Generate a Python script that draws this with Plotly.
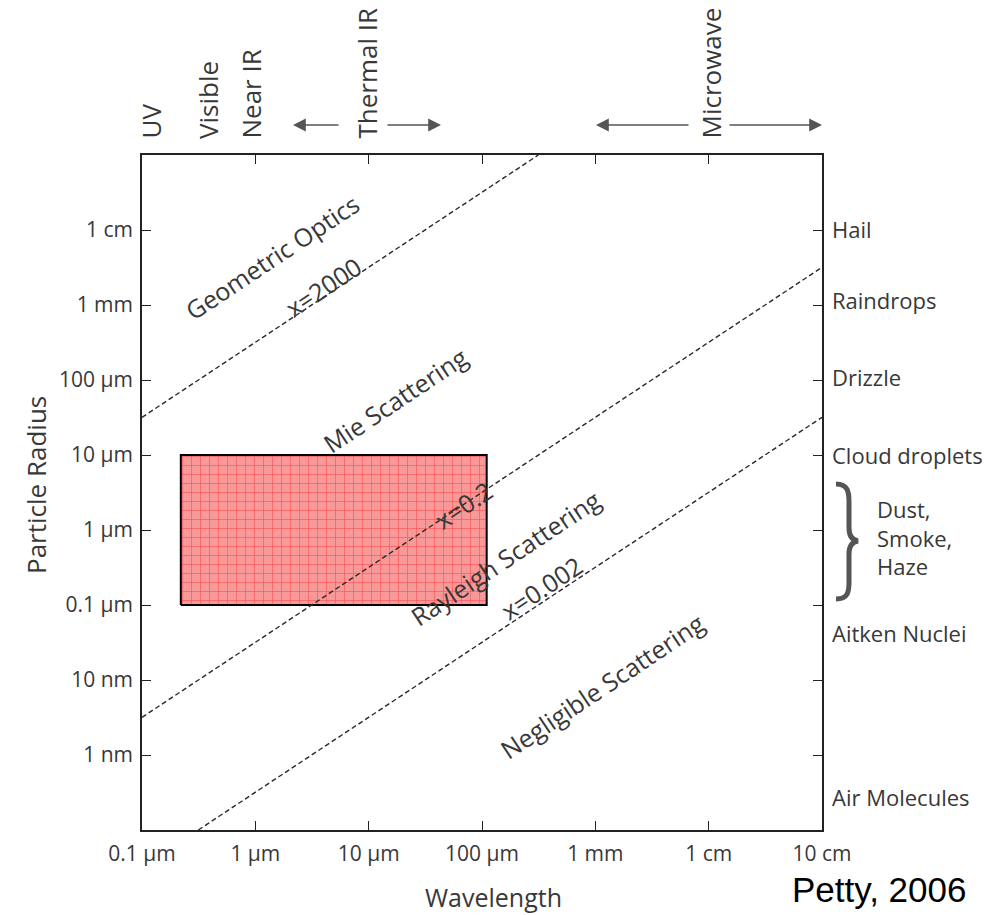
import plotly.graph_objects as go

# ---------------- data ----------------
x_tickvals = [1e-7, 1e-6, 1e-5, 1e-4, 1e-3, 1e-2, 1e-1]
x_ticktext = ["0.1 µm", "1 µm", "10 µm", "100 µm", "1 mm", "1 cm", "10 cm"]
y_tickvals = [1e-9, 1e-8, 1e-7, 1e-6, 1e-5, 1e-4, 1e-3, 1e-2]
y_ticktext = ["1 nm", "10 nm", "0.1 µm", "1 µm", "10 µm", "100 µm", "1 mm", "1 cm"]

# size-parameter boundary lines (wavelength [m], radius [m]) endpoints
line2000_lambda = [1e-7, 3.14e-4]
line2000_radius = [3.18e-5, 1e-1]
line02_lambda = [1e-7, 1e-1]
line02_radius = [3.18e-9, 3.18e-3]
line0002_lambda = [3.14e-7, 1e-1]
line0002_radius = [1e-10, 3.18e-5]

# highlighted region
rect_lambda = [2.2e-7, 1.1e-4]
rect_radius = [1e-7, 1e-5]

# ---------------- layout helpers ----------------
OFF = 0                      # body margin removed via post_script
W, H = 994, 915
L, R, T, B = 142, 822, 155, 830   # plot area in page pixels
XMIN, XMAX = -7, -1
YMIN, YMAX = -10, -1


def lx(px):
    return XMIN + (px - L) / (R - L) * (XMAX - XMIN)


def ly(py):
    return YMIN + (B - py) / (B - T) * (YMAX - YMIN)


def pxx(px):
    return (px - L) / (R - L)


def pyy(py):
    return (B - py) / (B - T)


TXT = "#383838"
FONT = "Open Sans"

fig = go.Figure()

# red hatched rectangle
fig.add_trace(go.Scatter(
    x=[rect_lambda[0], rect_lambda[1], rect_lambda[1], rect_lambda[0], rect_lambda[0]],
    y=[rect_radius[0], rect_radius[0], rect_radius[1], rect_radius[1], rect_radius[0]],
    mode="lines", fill="toself",
    fillcolor="rgba(245,120,120,0.85)",
    fillpattern=dict(shape="+", size=9, solidity=0.14, fgcolor="#ff0d0d",
                     bgcolor="rgba(246,135,135,0.85)", fillmode="overlay"),
    line=dict(color="black", width=2),
    hoverinfo="skip", showlegend=False,
))

for lam, rad in [(line2000_lambda, line2000_radius),
                 (line02_lambda, line02_radius),
                 (line0002_lambda, line0002_radius)]:
    fig.add_trace(go.Scatter(
        x=lam, y=rad, mode="lines",
        line=dict(color="#2a2a2a", width=1.4, dash="5px,3px"),
        hoverinfo="skip", showlegend=False,
    ))

ANG = -33.7
ann = []
inplot = [
    ("Geometric Optics", 272, 257),
    ("x=2000", 323, 287),
    ("Mie Scattering", 395, 400),
    ("x=0.2", 463, 505),
    ("Rayleigh Scattering", 505, 558),
    ("x=0.002", 541, 588),
    ("Negligible Scattering", 602, 686),
]
for t, px, py in inplot:
    ann.append(dict(text=t, x=lx(px), y=ly(py), xref="x", yref="y",
                    xanchor="center", yanchor="middle",
                    showarrow=False, textangle=ANG, bgcolor="rgba(0,0,0,0)",
                    font=dict(family=FONT, size=25, color=TXT)))

# right-hand labels
right_labels = [
    ("Hail", 229), ("Raindrops", 300), ("Drizzle", 377),
    ("Cloud droplets", 455), ("Aitken Nuclei", 633), ("Air Molecules", 797),
]
for t, py in right_labels:
    ann.append(dict(text=t, x=pxx(830), y=pyy(py), xref="paper", yref="paper",
                    xanchor="left", yanchor="middle", showarrow=False,
                    font=dict(family=FONT, size=22, color=TXT)))
ann.append(dict(text="Dust,<br>Smoke,<br>Haze", x=pxx(875), y=pyy(537),
                xref="paper", yref="paper", xanchor="left", yanchor="middle",
                align="left", showarrow=False,
                font=dict(family=FONT, size=22, color=TXT)))

# top band labels (rotated)
top_labels = [("UV", 150), ("Visible", 208), ("Near IR", 250),
              ("Thermal IR", 366), ("Microwave", 710)]
for t, px in top_labels:
    ann.append(dict(text=t, x=pxx(px), y=pyy(141), xref="paper", yref="paper",
                    xanchor="center", yanchor="bottom", textangle=-90,
                    showarrow=False,
                    font=dict(family=FONT, size=26, color=TXT)))

# arrows beside band labels (tail px -> head px)
arrows = [(340, 293), (386, 441), (690, 596), (728, 822)]
for x0, x1 in arrows:
    ann.append(dict(x=pxx(x1), y=pyy(125), ax=x0 - x1, ay=0,
                    xref="paper", yref="paper",
                    text="", showarrow=True, arrowhead=2, arrowsize=1.6,
                    arrowwidth=1.6, arrowcolor="#555555"))

# axis titles
ann.append(dict(text="Particle Radius", x=pxx(36), y=pyy(485), xref="paper",
                yref="paper", xanchor="center", yanchor="middle",
                textangle=-90, showarrow=False,
                font=dict(family=FONT, size=26, color=TXT)))
ann.append(dict(text="Wavelength", x=pxx(493), y=pyy(897), xref="paper",
                yref="paper", xanchor="center", yanchor="middle",
                showarrow=False,
                font=dict(family=FONT, size=25, color=TXT)))
ann.append(dict(text="Petty, 2006", x=pxx(879), y=pyy(890), xref="paper",
                yref="paper", xanchor="center", yanchor="middle",
                showarrow=False,
                font=dict(family="Liberation Sans", size=35, color="black")))

# brace
def P(px, py):
    return f"{pxx(px):.5f},{pyy(py):.5f}"

brace = (f"M {P(836,484)} C {P(848,484)} {P(849,492)} {P(849,502)} "
         f"L {P(849,528)} C {P(849,536)} {P(852,540)} {P(858,541)} "
         f"C {P(852,542)} {P(849,546)} {P(849,554)} "
         f"L {P(849,582)} C {P(849,592)} {P(848,599)} {P(836,599)}")

fig.update_layout(
    width=W, height=H,
    margin=dict(l=L - OFF, r=W + OFF - R, t=T - OFF, b=H + OFF - B, pad=0),
    paper_bgcolor="white", plot_bgcolor="white",
    showlegend=False,
    annotations=ann,
    shapes=[dict(type="path", path=brace, xref="paper", yref="paper",
                 line=dict(color="#555555", width=5))],
    xaxis=dict(type="log", range=[XMIN, XMAX], tickvals=x_tickvals,
               ticktext=x_ticktext, ticks="inside", ticklen=9, tickwidth=1.3,
               tickcolor="#222", showline=True, linecolor="#222", linewidth=1.6,
               mirror="ticks", showgrid=False, zeroline=False,
               ticklabelstandoff=4,
               tickfont=dict(family=FONT, size=21, color=TXT)),
    yaxis=dict(type="log", range=[YMIN, YMAX], tickvals=y_tickvals,
               ticktext=y_ticktext, ticks="inside", ticklen=9, tickwidth=1.3,
               tickcolor="#222", showline=True, linecolor="#222", linewidth=1.6,
               mirror="ticks", showgrid=False, zeroline=False,
               ticklabelstandoff=3,
               tickfont=dict(family=FONT, size=21, color=TXT)),
)

fig.write_html(
    "out.html",
    config={"displayModeBar": False},
    post_script="document.body.style.margin='0px';"
                "document.body.style.overflow='hidden';",
)
